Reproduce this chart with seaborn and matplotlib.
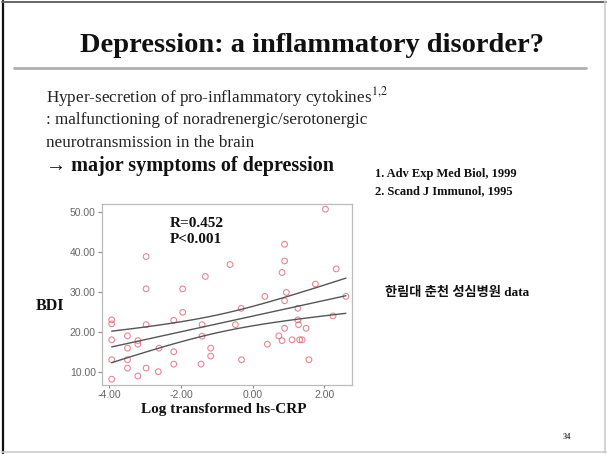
import numpy as np
import pandas as pd
import matplotlib
matplotlib.use("Agg")
import matplotlib.pyplot as plt
from matplotlib.lines import Line2D
import seaborn as sns

# ---- data ----
crp = [-3.93, -3.93, -3.93, -3.93, -3.93, -3.49, -3.49, -3.49, -3.49,
       -3.20, -3.20, -3.20, -2.97, -2.97, -2.97, -2.97, -2.63, -2.61,
       -2.20, -2.20, -2.20, -1.95, -1.95, -1.41, -1.41, -1.44, -1.32,
       -1.17, -1.17, -0.63, -0.48, -0.32, -0.31, 0.34, 0.41, 0.73,
       0.82, 0.82, 0.89, 0.89, 0.89, 0.89, 0.94, 1.26, 1.26, 1.28,
       1.10, 1.31, 1.38, 1.49, 1.57, 1.75, 2.03, 2.24, 2.33, 2.60]
bdi = [23.0, 22.0, 18.0, 13.0, 8.1, 19.0, 15.9, 13.0, 10.9,
       17.8, 16.9, 8.9, 38.9, 30.8, 21.8, 10.9, 10.0, 15.9,
       22.9, 15.0, 11.9, 30.8, 24.9, 21.8, 18.9, 11.9, 33.9,
       15.9, 13.9, 36.9, 21.8, 25.9, 13.0, 28.9, 16.9, 19.0,
       17.8, 34.9, 37.8, 42.0, 27.8, 20.9, 29.9, 25.9, 23.0, 21.8,
       18.0, 18.0, 18.0, 20.9, 13.0, 32.0, 50.8, 24.0, 35.8, 28.9]
x_ticks = [-4.0, -2.0, 0.0, 2.0]
y_ticks = [10.0, 20.0, 30.0, 40.0, 50.0]

title = "Depression: a inflammatory disorder?"
body_lines = ["Hyper-secretion of pro-inflammatory cytokines$^{1{,}2}$",
              ": malfunctioning of noradrenergic/serotonergic",
              "neurotransmission in the brain"]
body_bold = "\u2192 major symptoms of depression"
refs = ["1. Adv Exp Med Biol, 1999", "2. Scand J Immunol, 1995"]
stats_text = "R=0.452\nP<0.001"
source_text = "한림대 춘천 성심병원 data"
page_no = "34"

df = pd.DataFrame({"crp": crp, "bdi": bdi})

sns.set_theme(style="white")
plt.rcParams["font.family"] = ["Liberation Serif", "DejaVu Serif"]
plt.rcParams["mathtext.fontset"] = "stix"
plt.rcParams["axes.unicode_minus"] = False

W, H = 607, 454
fig = plt.figure(figsize=(W / 100, H / 100), dpi=100)
fig.patch.set_facecolor("white")

def fx(px):
    return px / W

def fy(py):
    return 1 - py / H

# slide frame
fig.add_artist(Line2D([fx(3), fx(3)], [fy(1), fy(453)], color="#111111", lw=1.6, transform=fig.transFigure))
fig.add_artist(Line2D([fx(2), fx(606)], [fy(1.5), fy(1.5)], color="#666666", lw=1.4, transform=fig.transFigure))
fig.add_artist(Line2D([fx(605), fx(605)], [fy(1), fy(453)], color="#cccccc", lw=1.2, transform=fig.transFigure))
fig.add_artist(Line2D([fx(2), fx(606)], [fy(452), fy(452)], color="#cccccc", lw=1.2, transform=fig.transFigure))

# title and rule
fig.text(fx(312), fy(45), title, ha="center", va="center", fontsize=20.5, fontweight="bold", color="#111111")
fig.add_artist(Line2D([fx(14), fx(586)], [fy(68), fy(68)], color="#b0b0b0", lw=2.0, transform=fig.transFigure))

# body text
for i, t in enumerate(body_lines):
    fig.text(fx(46), fy(97 + 23 * i), t, ha="left", va="center", fontsize=12.3, color="#222222")
fig.text(fx(46), fy(166), body_bold, ha="left", va="center", fontsize=14.5, fontweight="bold", color="#111111")
for i, t in enumerate(refs):
    fig.text(fx(375), fy(174 + 17 * i), t, ha="left", va="center", fontsize=9, fontweight="bold", color="#111111")

fig.text(fx(385), fy(293), source_text, ha="left", va="center", fontsize=9.5, fontweight="bold",
         family=["Liberation Serif", "Noto Sans CJK KR"], color="#111111")
fig.text(fx(563), fy(437), page_no, ha="left", va="center", fontsize=6, fontweight="bold", color="#444444")

# scatter plot
ax = fig.add_axes([fx(102), fy(385), fx(352) - fx(102), fy(204) - fy(385)])
sns.regplot(data=df, x="crp", y="bdi", ax=ax, ci=None, truncate=True,
            scatter_kws=dict(s=17, facecolors="none", edgecolors="#e5677a", linewidths=0.8, marker="o"),
            line_kws=dict(color="#555555", lw=1.0))

# 95% CI of the mean (lines, as in SPSS)
xa = np.asarray(crp)
ya = np.asarray(bdi)
n = len(xa)
b, a = np.polyfit(xa, ya, 1)
resid = ya - (a + b * xa)
s = np.sqrt(np.sum(resid ** 2) / (n - 2))
sxx = np.sum((xa - xa.mean()) ** 2)
xg = np.linspace(xa.min(), xa.max(), 100)
yg = a + b * xg
half = 2.005 * s * np.sqrt(1 / n + (xg - xa.mean()) ** 2 / sxx)
ax.plot(xg, yg + half, color="#555555", lw=1.0)
ax.plot(xg, yg - half, color="#555555", lw=1.0)

ax.set_xlim(-4.2, 2.77)
ax.set_ylim(6.65, 52.1)
ax.set_xticks(x_ticks)
ax.set_yticks(y_ticks)
ax.set_xticklabels([f"{v:.2f}" for v in x_ticks], family="Liberation Sans", fontsize=7.5, color="#666666")
ax.set_yticklabels([f"{v:.2f}" for v in y_ticks], family="Liberation Sans", fontsize=7.5, color="#666666")
ax.tick_params(axis="x", direction="out", length=2.5, width=0.8, color="#888888", pad=0.8, bottom=True)
ax.tick_params(axis="y", direction="out", length=3, width=0.8, color="#888888", pad=1.5, left=True)
for sp in ax.spines.values():
    sp.set_color("#bbbbbb")
    sp.set_linewidth(0.9)
ax.set_xlabel("")
ax.set_ylabel("")
ax.text(-2.32, 45.2, stats_text, ha="left", va="center", fontsize=11, fontweight="bold",
        color="#111111", linespacing=1.25)

fig.text(fx(50), fy(306), "BDI", ha="center", va="center", fontsize=11.5, fontweight="bold", color="#111111")
fig.text(fx(224), fy(409), "Log transformed hs-CRP", ha="center", va="center", fontsize=11,
         fontweight="bold", color="#111111")

fig.savefig("out.png", dpi=100)
